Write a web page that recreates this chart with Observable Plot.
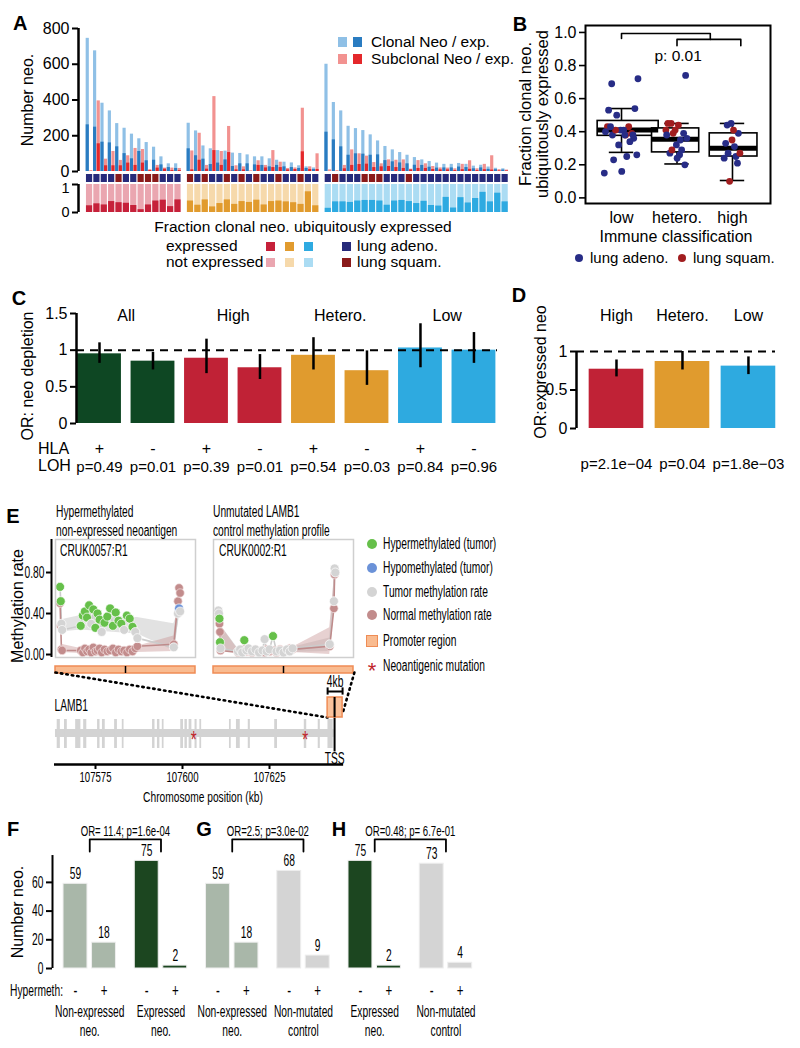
<!DOCTYPE html>
<html>
<head>
<meta charset="utf-8">
<script src="https://cdn.jsdelivr.net/npm/d3@7"></script>
<script src="https://cdn.jsdelivr.net/npm/@observablehq/plot@0.6"></script>
<style>
  html,body{margin:0;padding:0;background:#fff;}
  #root{position:relative;width:800px;height:1048px;overflow:hidden;background:#fff;}
  #root svg{overflow:visible;background:none;}
</style>
</head>
<body>
<div id="root"></div>
<script>
const FONT = '"Liberation Sans", Arial, Helvetica, sans-serif';
const SQ = 0.64; // horizontal squeeze of the lettering in panels E-H

// ---------------- Panel A data (per immune group) ----------------
const highClonalTotal = [745,675,382,339,268,242,209,183,162,136,82,43,43];
const highClonalExpr  = [261,248,164,160,138,100,71,112,60,63,37,22,17];
const highSubTotal    = [5,395,69,112,62,88,129,123,10,34,19,19,17];
const highSubExpr     = [0,155,32,32,32,47,34,47,5,19,13,5,5];
const highFrac        = [0.24,0.31,0.27,0.39,0.35,0.33,0.25,0.10,0.27,0.41,0.44,0.21,0.45];
const highType        = ["adeno","adeno","adeno","adeno","squam","adeno","adeno","squam","squam","squam","adeno","adeno","adeno"];

const heteroClonalTotal = [270,227,143,127,117,114,103,101,93,82,82,71,63,52,48,32,26,20];
const heteroClonalExpr  = [127,88,69,39,47,65,28,43,43,37,34,26,34,26,22,17,17,11];
const heteroSubTotal    = [115,214,34,419,112,252,32,26,4,60,34,117,52,17,20,354,26,99];
const heteroSubExpr     = [9,63,13,117,34,106,9,9,0,34,20,22,22,9,11,110,11,11];
const heteroFrac        = [0.41,0.26,0.45,0.20,0.32,0.45,0.29,0.39,0.36,0.44,0.27,0.39,0.41,0.38,0.35,0.29,0.74,0.24];
const heteroType        = ["squam","adeno","squam","adeno","adeno","squam","adeno","squam","adeno","squam","adeno","adeno","squam","adeno","adeno","squam","adeno","adeno"];

const lowClonalTotal = [600,386,339,253,240,229,205,171,140,121,106,91,78,65,56,47,40,40,45,40,30,35,25,18,15];
const lowClonalExpr  = [220,177,138,91,99,97,91,93,61,54,48,43,35,34,24,19,20,20,25,22,15,20,12,10,8];
const lowSubTotal    = [9,5,34,121,99,86,50,43,65,63,65,13,61,43,28,20,19,15,40,60,15,40,88,10,8];
const lowSubExpr     = [0,0,15,34,39,41,22,26,28,22,17,9,17,17,11,9,9,5,10,12,5,10,8,3,3];
const lowFrac        = [0.15,0.38,0.38,0.36,0.41,0.43,0.43,0.41,0.26,0.41,0.43,0.39,0.32,0.40,0.25,0.23,0.54,0.16,0.53,0.34,0.50,0.72,0.38,0.69,0.38];
const lowType        = ["adeno","squam","adeno","adeno","adeno","squam","squam","squam","adeno","adeno","adeno","squam","adeno","adeno","adeno","adeno","adeno","adeno","adeno","adeno","adeno","adeno","adeno","adeno","adeno"];
const fracTicks      = [0, 1];

// ---------------- Panel B box statistics ----------------
const boxGroups = ["low","hetero.","high"];
const boxLo  = [0.275,0.205,0.105];
const boxQ1  = [0.375,0.275,0.25];
const boxMed = [0.41,0.355,0.30];
const boxQ3  = [0.465,0.42,0.39];
const boxHi  = [0.54,0.45,0.45];

// ---------------- Panel C data ----------------
const cGroups = ["All","High","Hetero.","Low"];
const cHLA    = ["+","-","+","-","+","-","+","-"];
const cOR     = [0.95,0.85,0.89,0.76,0.93,0.72,1.03,1.00];
const cLo     = [0.82,0.73,0.68,0.60,0.73,0.52,0.76,0.82];
const cHi     = [1.10,0.97,1.15,0.94,1.17,0.99,1.36,1.24];
const cP      = ["p=0.49","p=0.01","p=0.39","p=0.01","p=0.54","p=0.03","p=0.84","p=0.96"];

// ---------------- Panel D data ----------------
const dGroups = ["High","Hetero.","Low"];
const dOR     = [0.77,0.87,0.81];
const dLo     = [0.67,0.76,0.70];
const dHi     = [0.89,1.00,0.93];
const dP      = ["p=2.1e\u221204","p=0.04","p=1.8e\u221203"];

// ---------------- Panel E data ----------------
// CRUK0057:R1 (position relative to TSS, bp)
const m57Pos    = [-1870,-1850,-1830,-1810,-1280,-1220,-1160,-1100,-1040,-980,-920,-860,-800,-740,-680,-600,-520,-440,-360,-280,-200,-120,-40,40,120,200,280,340,1380,1500,1530,1560];
const m57Tumor  = [0.66,0.52,0.30,0.24,0.28,0.38,0.42,0.36,0.48,0.30,0.44,0.26,0.40,0.34,0.22,0.31,0.37,0.45,0.28,0.41,0.33,0.30,0.24,0.38,0.35,0.27,0.22,0.16,0.07,0.40,0.45,0.42];
const m57Normal = [0.50,0.28,0.05,0.04,0.04,0.02,0.06,0.03,0.05,0.02,0.07,0.03,0.04,0.06,0.02,0.05,0.03,0.04,0.06,0.02,0.05,0.03,0.04,0.02,0.05,0.03,0.06,0.08,0.10,0.52,0.65,0.60];
const m57Status = ["hyper","hyper","none","none","hyper","hyper","hyper","hyper","hyper","none","hyper","hyper","hyper","hyper","none","hyper","hyper","hyper","hyper","hyper","hyper","hyper","none","hyper","hyper","hyper","none","none","none","none","hypo","none"];
const m57RibPos   = [-1830,-1280,340,1380,1545];
const m57TumLo    = [0.22,0.24,0.20,0.04,0.38];
const m57TumHi    = [0.34,0.38,0.36,0.30,0.46];
const m57NormLo   = [0.02,0.01,0.02,0.03,0.50];
const m57NormHi   = [0.10,0.06,0.08,0.18,0.62];
// CRUK0002:R1
const m02Pos    = [-1860,-1845,-1830,-1815,-1800,-1300,-1240,-1180,-1120,-1060,-1000,-900,-800,-700,-600,-540,-480,-400,-300,-200,-100,0,100,180,260,1320,1440,1460,1480];
const m02Tumor  = [0.43,0.40,0.35,0.12,0.06,0.03,0.05,0.02,0.14,0.04,0.06,0.03,0.05,0.02,0.04,0.15,0.03,0.05,0.18,0.03,0.04,0.02,0.05,0.03,0.06,0.10,0.52,0.84,0.80];
const m02Normal = [0.40,0.36,0.30,0.22,0.04,0.02,0.04,0.03,0.05,0.03,0.04,0.02,0.05,0.03,0.04,0.02,0.05,0.03,0.04,0.02,0.05,0.03,0.04,0.06,0.05,0.08,0.45,0.78,0.80];
const m02Status = ["none","none","hyper","hyper","none","none","none","none","hyper","none","none","none","none","none","none","none","none","none","hyper","none","none","none","none","none","none","none","none","none","none"];
const m02RibPos   = [-1830,-1300,260,1320,1470];
const m02TumLo    = [0.05,0.01,0.02,0.03,0.55];
const m02TumHi    = [0.30,0.06,0.07,0.16,0.85];
const m02NormLo   = [0.05,0.01,0.02,0.00,0.50];
const m02NormHi   = [0.30,0.05,0.07,0.26,0.82];

// LAMB1 gene model (kb)
const exonStart = [107564.0,107566.1,107569.3,107571.6,107575.6,107577.0,107580.5,107582.7,107591.4,107592.8,107594.2,107599.5,107600.7,107601.9,107603.6,107605.0,107613.5,107615.5,107618.9,107626.5,107635.0,107639.0,107641.8];
const exonEnd   = [107564.9,107566.9,107570.8,107572.5,107576.3,107577.8,107581.3,107583.2,107592.1,107593.5,107594.7,107600.3,107601.4,107602.7,107604.2,107605.5,107614.0,107616.6,107619.5,107627.3,107635.7,107639.6,107643.3];
const geneStartKb = 107563.5, geneEndKb = 107643.5, tssKb = 107643.7;
const promoterKb = [107641.7, 107646.0];
const neoMutKb = [107603.2, 107635.3];
const chromTicks = [107575, 107600, 107625];
const zoomKb = [107563.5, 107649.4];

// ---------------- Panels F-H data ----------------
const fghGroup = ["Non-expressed\nneo.","Non-expressed\nneo.","Expressed\nneo.","Expressed\nneo.","Non-expressed\nneo.","Non-expressed\nneo.","Non-mutated\ncontrol","Non-mutated\ncontrol","Expressed\nneo.","Expressed\nneo.","Non-mutated\ncontrol","Non-mutated\ncontrol"];
const fghHyper = ["-","+","-","+","-","+","-","+","-","+","-","+"];
const fghCount = [59,18,75,2,59,18,68,9,75,2,73,4];
const fghOR    = ["OR= 11.4; p=1.6e-04","OR=2.5; p=3.0e-02","OR=0.48; p= 6.7e-01"];

// ---------------- colours ----------------
const groupDark  = {high:"#c6213a", hetero:"#e19b2e", low:"#2eaae1"};
const groupLight = {high:"#eaa6b0", hetero:"#f6d9ab", low:"#abdcf3"};
const typeSquare = {adeno:"#262a7a", squam:"#8a1a1a"};
const typeDot    = {adeno:"#272c86", squam:"#a11d1f"};
const fghColor   = {"Non-expressed\nneo.":"#a9b7a9","Expressed\nneo.":"#1c4620","Non-mutated\ncontrol":"#d4d4d4"};

// ---------------- helpers ----------------
const root = document.getElementById("root");
function put(node, left, top){ node.style.position="absolute"; node.style.left=left+"px"; node.style.top=top+"px"; root.appendChild(node); return node; }
function label(text, x, y, o={}){
  const d=document.createElement("div");
  const anchor=o.anchor||"start";
  d.style.cssText=`position:absolute;left:${x}px;top:${y}px;white-space:nowrap;line-height:${o.lh||1.15};font-size:${o.size||16}px;font-family:${FONT};font-weight:${o.weight||"normal"};color:${o.color||"#000"};text-align:${o.align||"left"};`;
  const tx=anchor==="start"?"0":anchor==="middle"?"-50%":"-100%";
  d.style.transformOrigin=anchor==="start"?"left center":anchor==="middle"?"center":"right center";
  let t=`translate(${tx},-50%)`;
  if(o.rotate) t+=` rotate(${o.rotate}deg)`;
  if(o.sx) t+=` scaleX(${o.sx})`;
  d.style.transform=t;
  d.innerHTML=text;
  root.appendChild(d);
  return d;
}
function swatch(x,y,w,h,color,extra=""){
  const d=document.createElement("div");
  d.style.cssText=`position:absolute;left:${x}px;top:${y}px;width:${w}px;height:${h}px;background:${color};${extra}`;
  root.appendChild(d);
}
// narrow the lettering horizontally about each text's own anchor point
function squish(svg,f){
  svg.querySelectorAll("text").forEach(t=>{
    const tr=t.getAttribute("transform")||"";
    const xa=t.getAttribute("x");
    const x=(xa && /^-?[\d.]+$/.test(xa)) ? parseFloat(xa) : 0;
    t.setAttribute("transform",`${tr} translate(${x},0) scale(${f},1) translate(${-x},0)`);
  });
}
const baseStyle = (size)=>({fontFamily:FONT, fontSize:size+"px", background:"none", overflow:"visible", color:"#000"});

// ---------------- build patient table ----------------
const groupsA = [
  {name:"high", ct:highClonalTotal, ce:highClonalExpr, st:highSubTotal, se:highSubExpr, fr:highFrac, ty:highType},
  {name:"hetero", ct:heteroClonalTotal, ce:heteroClonalExpr, st:heteroSubTotal, se:heteroSubExpr, fr:heteroFrac, ty:heteroType},
  {name:"low", ct:lowClonalTotal, ce:lowClonalExpr, st:lowSubTotal, se:lowSubExpr, fr:lowFrac, ty:lowType}
];
const pat=[]; let idx=0;
groupsA.forEach((g,gi)=>g.fr.forEach((f,j)=>{
  pat.push({group:g.name, j, pos: idx+0.7*gi, clonalTotal:g.ct[j], clonalExpr:g.ce[j], subTotal:g.st[j], subExpr:g.se[j], frac:f, type:g.ty[j]});
  idx++;
}));
const xA = {domain:[-1.5,57.4], axis:null};
const aUnit = 434/58.9; // px per patient slot

// ---------------- Panel A: counts ----------------
const aTop = Plot.plot({
  width:540, height:180, marginLeft:78, marginRight:28, marginTop:28, marginBottom:9,
  x:xA, y:{domain:[0,800], axis:null}, color:{type:"identity"}, style:baseStyle(16),
  marks:[
    Plot.rectY(pat,{x1:d=>d.pos-0.46,x2:d=>d.pos-0.03,y:"clonalTotal",fill:"#8fc0e6"}),
    Plot.rectY(pat,{x1:d=>d.pos-0.46,x2:d=>d.pos-0.03,y:"clonalExpr",fill:"#2a7cc1"}),
    Plot.rectY(pat,{x1:d=>d.pos+0.03,x2:d=>d.pos+0.46,y:"subTotal",fill:"#f29290"}),
    Plot.rectY(pat,{x1:d=>d.pos+0.03,x2:d=>d.pos+0.46,y:"subExpr",fill:"#e4282b"}),
    Plot.ruleX([-1.5],{y1:0,y2:800,strokeWidth:2.5}),
    Plot.axisY({ticks:[0,200,400,600,800],tickSize:6,tickPadding:3,strokeWidth:2,label:null})
  ]
});
put(aTop,0,0);

const aType = Plot.plot({
  width:540, height:8, marginLeft:78, marginRight:28, marginTop:0, marginBottom:0,
  x:xA, color:{type:"identity"}, style:baseStyle(16),
  marks:[ Plot.rect(pat,{x1:d=>d.pos-0.42,x2:d=>d.pos+0.42,fill:d=>typeSquare[d.type]}) ]
});
put(aType,0,174);

const aFrac = Plot.plot({
  width:540, height:36, marginLeft:78, marginRight:28, marginTop:4, marginBottom:4,
  x:xA, y:{domain:[0,1],axis:null}, color:{type:"identity"}, style:baseStyle(14.5),
  marks:[
    Plot.rectY(pat,{x1:d=>d.pos-0.42,x2:d=>d.pos+0.42,y:()=>1,fill:d=>groupLight[d.group]}),
    Plot.rectY(pat,{x1:d=>d.pos-0.42,x2:d=>d.pos+0.42,y:"frac",fill:d=>groupDark[d.group]}),
    Plot.ruleX([-1.5],{y1:0,y2:1,strokeWidth:2.5}),
    Plot.ruleY(fracTicks,{x1:-1.5-6/aUnit,x2:-1.5,strokeWidth:2}),
    Plot.text([0],{y:d=>d,frameAnchor:"left",textAnchor:"end",dx:-9,fontSize:14.5}),
    Plot.text([1],{y:d=>d,frameAnchor:"left",textAnchor:"end",dx:-9,dy:4,fontSize:14.5})
  ]
});
put(aFrac,0,180);

// Panel A labels / legends
label("A",13,23,{size:20,weight:"bold"});
label("Number neo.",28,100,{rotate:-90,anchor:"middle",size:16});
swatch(338,37,9,10,"#8fc0e6"); swatch(353,37,9,10,"#2a7cc1");
label("Clonal Neo / exp.",371,42,{size:15.5});
swatch(338,54,9,10,"#f29290"); swatch(353,54,9,10,"#e4282b");
label("Subclonal Neo / exp.",371,59,{size:15.5});
label("Fraction clonal neo. ubiquitously expressed",303,227,{anchor:"middle",size:15.5});
label("expressed",166,246,{size:15.5});
label("not expressed",166,262,{size:15.5});
["high","hetero","low"].forEach((g,i)=>{ swatch(266+i*19,242,9,9,groupDark[g]); swatch(266+i*19,258,9,9,groupLight[g]); });
swatch(342,242,9,9,typeSquare.adeno); label("lung adeno.",357,246,{size:15.5});
swatch(342,258,9,9,typeSquare.squam); label("lung squam.",357,262,{size:15.5});

// ---------------- Panel B ----------------
const bIndex = {low:0, hetero:1, high:2};
const bSpread = [0.62,0.40,0.30];           // jitter width per group (x units)
const boxLeftOff  = [-0.43,-0.45,-0.41];    // box edges relative to group centre
const boxRightOff = [0.67,0.40,0.45];
const boxRows = boxGroups.map((g,i)=>({i, lo:boxLo[i], q1:boxQ1[i], med:boxMed[i], q3:boxQ3[i], hi:boxHi[i], l:i+boxLeftOff[i], r:i+boxRightOff[i]}));
const bDots = pat.map(d=>{ const g=bIndex[d.group]; return {...d, bx: g + (((d.j*0.618034)%1)-0.5)*bSpread[g]}; });
const bBrackets = [
  {id:1,x:0,y:0.964},{id:1,x:0,y:0.994},{id:1,x:1.6,y:0.994},{id:1,x:1.6,y:0.958},
  {id:2,x:1,y:0.92},{id:2,x:1,y:0.958},{id:2,x:2.15,y:0.958},{id:2,x:2.15,y:0.92}
];
const bPlot = Plot.plot({
  width:280, height:232, marginLeft:75, marginRight:20, marginTop:25, marginBottom:29,
  x:{domain:[-0.649,2.685],axis:null}, y:{domain:[-0.034,1.042],axis:null},
  color:{type:"identity"}, style:baseStyle(16),
  marks:[
    Plot.ruleX(boxRows,{x:"i",y1:"lo",y2:"hi",strokeWidth:1.6}),
    Plot.ruleY(boxRows,{x1:d=>d.i-0.22,x2:d=>d.i+0.22,y:"lo",strokeWidth:1.6}),
    Plot.ruleY(boxRows,{x1:d=>d.i-0.22,x2:d=>d.i+0.22,y:"hi",strokeWidth:1.6}),
    Plot.rect(boxRows,{x1:"l",x2:"r",y1:"q1",y2:"q3",fill:"white",stroke:"black",strokeWidth:1.6}),
    Plot.ruleY(boxRows,{x1:"l",x2:"r",y:"med",strokeWidth:5}),
    Plot.dot(bDots,{x:"bx",y:"frac",r:3.4,fill:d=>typeDot[d.type]}),
    Plot.line(bBrackets,{x:"x",y:"y",z:"id",strokeWidth:1.6}),
    Plot.text(["p: 0.01"],{x:1.02,y:0.86,fontSize:15.5}),
    Plot.frame({strokeWidth:2}),
    Plot.axisY({ticks:[0,0.2,0.4,0.6,0.8,1],tickFormat:".1f",tickSize:6,tickPadding:3,strokeWidth:1.6,label:null}),
    Plot.axisX({ticks:[0,1,2],tickFormat:i=>boxGroups[i],tickSize:0,tickPadding:8,label:null})
  ]
});
put(bPlot,510,0);
label("B",520,24,{size:20,weight:"bold",anchor:"middle"});
label("Fraction clonal neo.<br>ubiquitously expressed",534,114,{rotate:-90,anchor:"middle",align:"center",size:16.5,lh:1.05});
label("Immune classification",676,237,{anchor:"middle",size:16});
swatch(575,254,8,8,typeDot.adeno,"border-radius:50%;");
label("lung adeno.",590,258,{size:15});
swatch(678,254,8,8,typeDot.squam,"border-radius:50%;");
label("lung squam.",693,258,{size:15});

// ---------------- Panel C ----------------
const cRows = cOR.map((v,i)=>({i, or:v, lo:cLo[i], hi:cHi[i], hla:cHLA[i], p:cP[i], grp:cGroups[Math.floor(i/2)]}));
const cColor = {"All":"#0e4723","High":"#c02236","Hetero.":"#e09b2e","Low":"#2eaae0"};
const cPlot = Plot.plot({
  width:510, height:175, marginLeft:76, marginRight:13, marginTop:13, marginBottom:52,
  x:{domain:[-0.43,7.44],axis:null}, y:{domain:[0,1.5],axis:null},
  color:{type:"identity"}, style:baseStyle(16),
  marks:[
    Plot.rectY(cRows,{x1:d=>d.i-0.41,x2:d=>d.i+0.41,y:"or",fill:d=>cColor[d.grp]}),
    Plot.ruleY([1],{strokeDasharray:"8,6",strokeWidth:2}),
    Plot.ruleX(cRows,{x:"i",y1:"lo",y2:"hi",strokeWidth:2.5}),
    Plot.ruleX([-0.43],{y1:0,y2:1.5,strokeWidth:2.5}),
    Plot.axisY({ticks:[0,0.5,1,1.5],tickFormat:d=>String(d),tickSize:6,tickPadding:3,strokeWidth:2,label:null}),
    Plot.text(cGroups,{x:(d,i)=>2*i+0.5,frameAnchor:"top",lineAnchor:"middle",dy:2,fontSize:16}),
    Plot.text(cRows,{x:"i",text:"hla",frameAnchor:"bottom",lineAnchor:"middle",dy:25,fontSize:16}),
    Plot.text(cRows,{x:"i",text:"p",frameAnchor:"bottom",lineAnchor:"middle",dy:44,fontSize:15})
  ]
});
put(cPlot,0,300);
label("C",19,298,{size:20,weight:"bold",anchor:"middle"});
label("OR: neo depletion",28,376,{rotate:-90,anchor:"middle",size:16});
label("HLA",38,449,{size:16});
label("LOH",38,466,{size:16});

// ---------------- Panel D ----------------
const dRows = dOR.map((v,i)=>({i, or:v, lo:dLo[i], hi:dHi[i], g:dGroups[i], p:dP[i]}));
const dColor = {"High":"#c02236","Hetero.":"#e09b2e","Low":"#2eaae0"};
const dPlot = Plot.plot({
  width:260, height:175, marginLeft:36, marginRight:25, marginTop:51, marginBottom:47,
  x:{domain:[-0.606,2.41],axis:null}, y:{domain:[0,1],axis:null},
  color:{type:"identity"}, style:baseStyle(16),
  marks:[
    Plot.rectY(dRows,{x1:d=>d.i-0.414,x2:d=>d.i+0.414,y:"or",fill:d=>dColor[d.g]}),
    Plot.ruleY([1],{strokeDasharray:"8,6",strokeWidth:2}),
    Plot.ruleX(dRows,{x:"i",y1:"lo",y2:"hi",strokeWidth:2.5}),
    Plot.ruleX([-0.606],{y1:0,y2:1,strokeWidth:2.5}),
    Plot.axisY({ticks:[0,0.5,1],tickFormat:d=>String(d),tickSize:6,tickPadding:3,strokeWidth:2,label:null}),
    Plot.text(dRows,{x:"i",text:"g",frameAnchor:"top",lineAnchor:"middle",dy:-36,fontSize:16}),
    Plot.text(dRows,{x:"i",text:"p",frameAnchor:"bottom",lineAnchor:"middle",dy:36,fontSize:15})
  ]
});
put(dPlot,540,300);
label("D",519,295,{size:20,weight:"bold",anchor:"middle"});
label("OR:expressed neo",541,372,{rotate:-90,anchor:"middle",size:16});

// ---------------- Panel E: methylation profiles ----------------
function methylPlot(pos,tum,nor,status,ribPos,tLo,tHi,nLo,nHi,withAxis){
  const pts = pos.map((p,i)=>({p, t:tum[i], n:nor[i], s:status[i]}));
  const rib = ribPos.map((p,i)=>({p, tl:tLo[i], th:tHi[i], nl:nLo[i], nh:nHi[i]}));
  const tumColor = {hyper:"#66c04a", hypo:"#6b92d8", none:"#d4d4d4"};
  const marks = [
    Plot.areaY(rib,{x:"p",y1:"tl",y2:"th",fill:"#cfcfcf",fillOpacity:0.6}),
    Plot.areaY(rib,{x:"p",y1:"nl",y2:"nh",fill:"#c99a9a",fillOpacity:0.45}),
    Plot.line(pts,{x:"p",y:"t",stroke:"#cccccc",strokeWidth:1.6}),
    Plot.line(pts,{x:"p",y:"n",stroke:"#bf8b8b",strokeWidth:1.6}),
    Plot.dot(pts,{x:"p",y:"n",r:4.2,fill:"#c28c8c",stroke:"#f3e3e3",strokeWidth:0.7}),
    Plot.dot(pts,{x:"p",y:"t",r:4.5,fill:d=>tumColor[d.s],stroke:"#ffffff",strokeWidth:0.7}),
    Plot.frame({stroke:"#cfcfcf",strokeWidth:1.5})
  ];
  if(withAxis){
    marks.push(Plot.ruleX([-2000],{y1:-0.029,y2:1.122,dx:-4,strokeWidth:2}));
    marks.push(Plot.axisY({ticks:[0,0.4,0.8],tickFormat:".2f",tickSize:5,tickPadding:2,dx:-4,strokeWidth:2,label:null,fontSize:16}));
  }
  return Plot.plot({
    width:200, height:125, marginLeft:55, marginRight:5, marginTop:4, marginBottom:3,
    x:{domain:[-2000,2000],axis:null}, y:{domain:[-0.029,1.122],axis:null},
    color:{type:"identity"}, style:baseStyle(16), marks
  });
}
const m1 = put(methylPlot(m57Pos,m57Tumor,m57Normal,m57Status,m57RibPos,m57TumLo,m57TumHi,m57NormLo,m57NormHi,true),0,535);
const m2 = put(methylPlot(m02Pos,m02Tumor,m02Normal,m02Status,m02RibPos,m02TumLo,m02TumHi,m02NormLo,m02NormHi,false),158,535);
squish(m1,SQ);

function promoterBar(){
  return Plot.plot({
    width:200, height:12, marginLeft:55, marginRight:5, marginTop:2, marginBottom:3,
    x:{domain:[-2000,2000],axis:null}, style:baseStyle(12),
    marks:[ Plot.rect([0],{x1:-2000,x2:2000,fill:"#f9bb90",stroke:"#ef8c55",strokeWidth:1.5}), Plot.ruleX([0],{strokeWidth:1.5}) ]
  });
}
put(promoterBar(),0,664);
put(promoterBar(),158,664);

// gene model
const exons = exonStart.map((s,i)=>({s, e:exonEnd[i]}));
const geneLinks = [
  {x1:zoomKb[0], y1:15.25, x2:promoterKb[0], y2:4},
  {x1:zoomKb[1], y1:15.25, x2:promoterKb[1], y2:5}
];
const gPlot = Plot.plot({
  width:360, height:132, marginLeft:54, marginRight:4, marginTop:0, marginBottom:36,
  x:{domain:[107563.22,107650.0],axis:null}, y:{domain:[-7.75,16.25],axis:null},
  style:baseStyle(16),
  marks:[
    Plot.link(geneLinks,{x1:"x1",y1:"y1",x2:"x2",y2:"y2",strokeDasharray:"1.5,4",strokeWidth:2.6,strokeLinecap:"round"}),
    Plot.rect([0],{x1:geneStartKb,x2:geneEndKb,y1:-1,y2:1,fill:"#d3d3d3"}),
    Plot.rect(exons,{x1:"s",x2:"e",y1:-3.75,y2:3.5,fill:"#d3d3d3"}),
    Plot.text(neoMutKb,{x:d=>d,y:0,text:()=>"*",fill:"#c0262c",fontSize:24,dy:7}),
    Plot.ruleX([tssKb],{y1:-4.6,y2:9,strokeWidth:2}),
    Plot.rect([0],{x1:promoterKb[0],x2:promoterKb[1],y1:4,y2:9,fill:"#f9bb90",fillOpacity:0.9,stroke:"#ef8c55",strokeWidth:1.5}),
    Plot.ruleX([tssKb],{y1:4,y2:9,strokeWidth:2}),
    Plot.ruleY([10.5],{x1:promoterKb[0],x2:promoterKb[1],strokeWidth:2}),
    Plot.ruleX(promoterKb,{y1:9.6,y2:11.4,strokeWidth:2}),
    Plot.text(["4kb"],{x:(promoterKb[0]+promoterKb[1])/2,y:12.9,fontSize:16}),
    Plot.text(["TSS"],{x:tssKb,y:-6.3,fontSize:16}),
    Plot.text(["LAMB1"],{x:107563.22,y:7,textAnchor:"start",fontSize:16}),
    Plot.ruleY([-7.75],{x1:107563.22,x2:107646.3,strokeWidth:2.5}),
    Plot.axisX({ticks:chromTicks,tickFormat:d=>String(d),tickSize:5,tickPadding:2,strokeWidth:2,label:null,fontSize:15})
  ]
});
put(gPlot,0,668);
squish(gPlot,SQ);

label("E",13,516,{size:20,weight:"bold",anchor:"middle"});
label("Hypermethylated<br>non-expressed neoantigen",56,522,{size:16,sx:SQ,lh:1.18});
label("Unmutated LAMB1<br>control methylation profile",213,522,{size:16,sx:SQ,lh:1.18});
label("CRUK0057:R1",60,551,{size:16,sx:SQ});
label("CRUK0002:R1",219,551,{size:16,sx:SQ});
label("Methylation rate",18,606,{rotate:-90,anchor:"middle",size:16});
label("Chromosome position (kb)",203,797,{anchor:"middle",size:15.5,sx:SQ*1.03});
const eLeg = [["#66c04a","Hypermethylated (tumor)",544],["#6b92d8","Hypomethylated (tumor)",568],["#d4d4d4","Tumor methylation rate",592],["#c28c8c","Normal methylation rate",615]];
eLeg.forEach(([c,t,y])=>{ swatch(367,y-5,10,10,c,"border-radius:50%;"); label(t,383,y,{size:16,sx:SQ}); });
swatch(366,635,12,12,"#f9bb90","border:1.5px solid #ef8c55;box-sizing:border-box;");
label("Promoter region",383,641,{size:16,sx:SQ});
label("*",372,671,{size:22,anchor:"middle",color:"#c0262c"});
label("Neoantigenic mutation",383,666,{size:16,sx:SQ});

// ---------------- Panels F-H ----------------
const fghRows = fghCount.map((c,i)=>({i, pos: Math.floor(i/2)*2.5 + (i%2), c, grp:fghGroup[i], hyper:fghHyper[i]}));
const pairRows = d3.range(6).map(k=>({pos:k*2.5+0.5, grp:fghGroup[2*k]}));
const brk = [];
fghOR.forEach((t,p)=>{
  const a = (2*p)*2.5+0.5, b = (2*p+1)*2.5+0.5;
  brk.push({id:p,x:a,y:81.5},{id:p,x:a,y:90},{id:p,x:b,y:90},{id:p,x:b,y:81.5});
});
const orRows = fghOR.map((t,p)=>({t, x:((2*p)*2.5+0.5 + (2*p+1)*2.5+0.5)/2}));
const fPlot = Plot.plot({
  width:485, height:233, marginLeft:52, marginRight:2.5, marginTop:0, marginBottom:80,
  x:{domain:[-0.807,14.3],axis:null}, y:{domain:[0,106.6],axis:null},
  color:{type:"identity"}, style:baseStyle(16),
  marks:[
    Plot.rectY(fghRows,{x1:d=>d.pos-0.42,x2:d=>d.pos+0.42,y:"c",fill:d=>fghColor[d.grp],stroke:"#eeeeee",strokeWidth:1}),
    Plot.text(fghRows,{x:"pos",y:"c",text:d=>String(d.c),dy:-10,fontSize:16}),
    Plot.ruleX([-0.807],{y1:0,y2:78.7,strokeWidth:2}),
    Plot.axisY({ticks:[0,20,40,60],tickFormat:d=>String(d),tickSize:6,tickPadding:3,strokeWidth:2,label:null,fontSize:16}),
    Plot.line(brk,{x:"x",y:"y",z:"id",strokeWidth:1.8}),
    Plot.text(orRows,{x:"x",y:()=>95.5,text:"t",fontSize:15}),
    Plot.text(fghRows,{x:"pos",text:"hyper",frameAnchor:"bottom",lineAnchor:"middle",dy:23,fontSize:18}),
    Plot.text(pairRows,{x:"pos",text:"grp",frameAnchor:"bottom",lineAnchor:"middle",dy:52,fontSize:16,lineHeight:1.15})
  ]
});
put(fPlot,0,815);
squish(fPlot,SQ);
label("F",13,829,{size:20,weight:"bold",anchor:"middle"});
label("G",204,829,{size:20,weight:"bold",anchor:"middle"});
label("H",339,829,{size:20,weight:"bold",anchor:"middle"});
label("Number neo.",18,912,{rotate:-90,anchor:"middle",size:16});
label("Hypermeth:",63,991,{anchor:"end",size:16,sx:SQ});
</script>
</body>
</html>
